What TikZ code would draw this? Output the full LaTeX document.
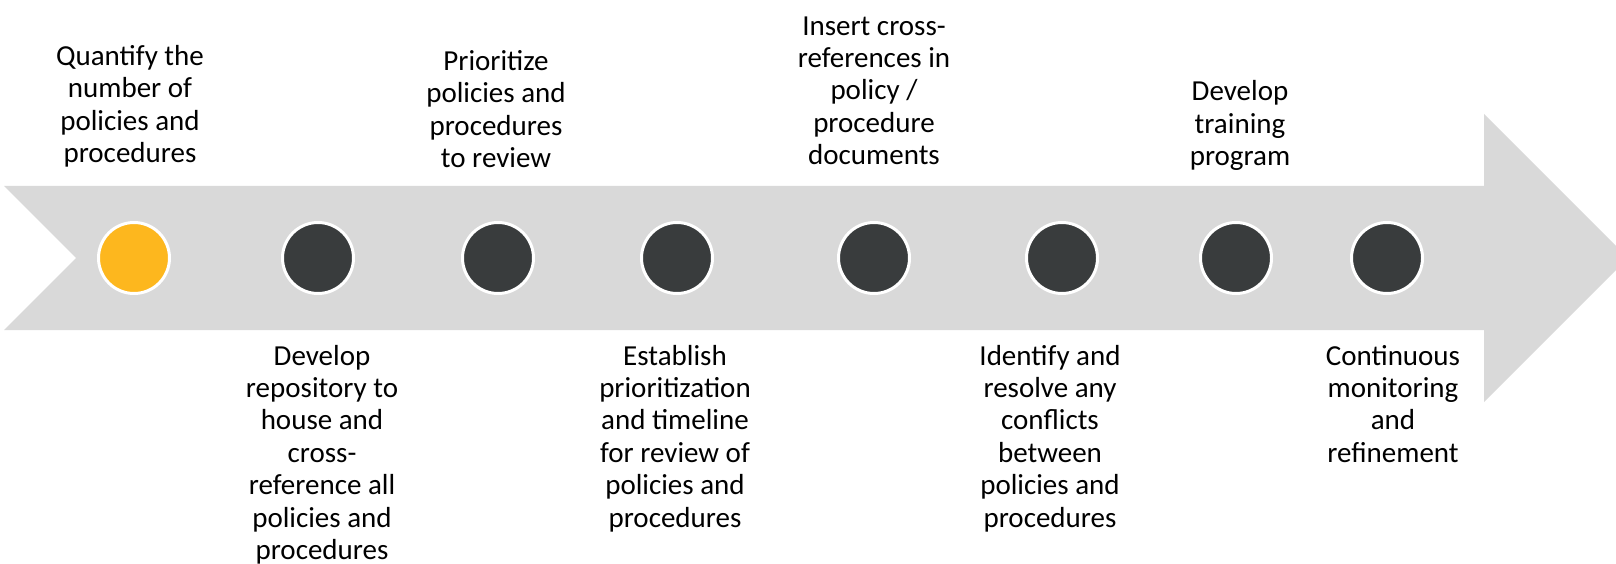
\documentclass[tikz,border=0pt]{standalone}
\usepackage{fontspec}
\setmainfont{Carlito}
\definecolor{bandgray}{HTML}{D9D9D9}
\definecolor{stepyellow}{HTML}{FDB71E}
\definecolor{stepdark}{HTML}{393C3D}
\tikzset{
  milestone/.style={circle, draw=white, line width=3pt, minimum size=71pt, inner sep=0pt},
  done/.style={milestone, fill=stepyellow},
  todo/.style={milestone, fill=stepdark},
  lbl/.style={align=center, inner sep=0pt, text=black,
              font=\fontsize{29}{32.4}\selectfont},
  above lbl/.style={lbl, anchor=south},
  below lbl/.style={lbl, anchor=north},
}
\begin{document}
\begin{tikzpicture}[x=1pt, y=-1pt]
  \useasboundingbox (0,0) rectangle (1616,564);
  \clip (0,0) rectangle (1616,564);
  % timeline band: notched tail, straight shaft, arrow head
  \fill[bandgray] (4,186) -- (1484,186) -- (1484,114) -- (1628,258)
    -- (1484,402) -- (1484,330) -- (4,330) -- (76,258) -- cycle;

  % milestones
  \node[done] (c1) at (134,258) {};
  \node[todo] (c2) at (318,258) {};
  \node[todo] (c3) at (498,258) {};
  \node[todo] (c4) at (677,258) {};
  \node[todo] (c5) at (874,258) {};
  \node[todo] (c6) at (1062,258) {};
  \node[todo] (c7) at (1236,258) {};
  \node[todo] (c8) at (1387,258) {};

  % labels above the band (last baseline + strut depth)
  \node[above lbl] (t1) at (130,172.7) {Quantify the\\number of\\policies and\\procedures\strut};
  \node[above lbl] (t3) at (496,177.7) {Prioritize\\policies and\\procedures\\to review\strut};
  \node[above lbl] (t5) at (874,174.7) {Insert cross-\\references in\\policy /\\procedure\\documents\strut};
  \node[above lbl] (t7) at (1240,175.7) {Develop\\training\\program\strut};

  % labels below the band (first baseline - strut height)
  \node[below lbl] (t2) at (322,342.3) {\strut Develop\\repository to\\house and\\cross-\\reference all\\policies and\\procedures};
  \node[below lbl] (t4) at (675,342.3) {\strut Establish\\prioritization\\and timeline\\for review of\\policies and\\procedures};
  \node[below lbl] (t6) at (1050,342.3) {\strut Identify and\\resolve any\\conflicts\\between\\policies and\\procedures};
  \node[below lbl] (t8) at (1393,342.3) {\strut Continuous\\monitoring\\and\\refinement};
\end{tikzpicture}
\end{document}
